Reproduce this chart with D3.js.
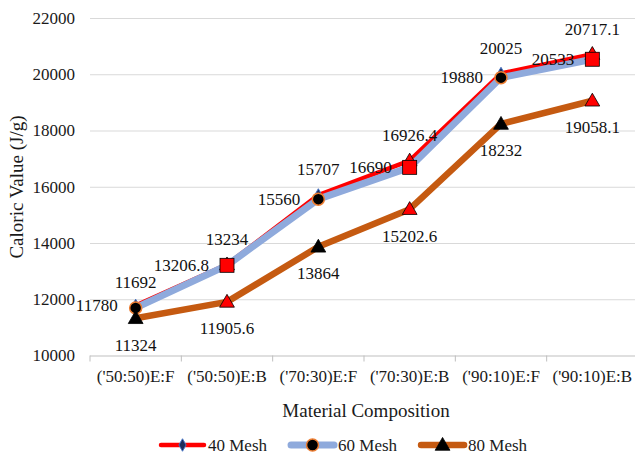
<!DOCTYPE html>
<html>
<head>
<meta charset="utf-8">
<script src="https://cdn.jsdelivr.net/npm/d3@7"></script>
<style>
  body { margin: 0; background: #fff; }
  text { font-family: "Liberation Serif", "Times New Roman", serif; }
</style>
</head>
<body>
<div id="chart"></div>
<script>
const categories = ["('50:50)E:F", "('50:50)E:B", "('70:30)E:F", "('70:30)E:B", "('90:10)E:F", "('90:10)E:B"];
const mesh40 = [11780, 13234, 15707, 16926.4, 20025, 20717.1];
const mesh60 = [11692, 13206.8, 15560, 16690, 19880, 20533];
const mesh80 = [11324, 11905.6, 13864, 15202.6, 18232, 19058.1];
const seriesNames = ["40 Mesh", "60 Mesh", "80 Mesh"];
const yTicks = [10000, 12000, 14000, 16000, 18000, 20000, 22000];

const width = 635, height = 454;
const plotLeft = 90, plotRight = 638, plotTop = 18, plotBottom = 355.5;

const svg = d3.select("#chart").append("svg")
  .attr("width", width)
  .attr("height", height);

const x = d3.scaleBand().domain(categories).range([plotLeft, plotRight]).paddingInner(0).paddingOuter(0);
const cx = d => x(d) + x.bandwidth() / 2;
const y = d3.scaleLinear().domain([10000, 22000]).range([plotBottom, plotTop]);

// gridlines + y labels
const yAxis = svg.append("g")
  .attr("transform", `translate(${plotLeft},0)`)
  .call(d3.axisLeft(y).tickValues(yTicks).tickSize(-(plotRight - plotLeft)).tickPadding(15).tickFormat(d3.format("d")));
yAxis.select(".domain").remove();
yAxis.selectAll(".tick line").attr("stroke", "#d9d9d9").attr("stroke-width", 1);
yAxis.selectAll(".tick text").style("font-size", "17px").attr("fill", "#1a1a1a")
  .style("font-family", "'Liberation Serif', 'Times New Roman', serif");
yAxis.selectAll(".tick").filter(d => d === 10000).select("line").attr("stroke", "#bfbfbf");

// x axis labels
const xAxis = svg.append("g")
  .attr("transform", `translate(0,${plotBottom})`)
  .call(d3.axisBottom(x).tickSize(0).tickPadding(14));
xAxis.select(".domain").remove();
xAxis.selectAll(".tick text").style("font-size", "17px").attr("fill", "#1a1a1a")
  .style("font-family", "'Liberation Serif', 'Times New Roman', serif");

// category boundary ticks
svg.append("g").selectAll("line")
  .data(categories.concat(["end"]))
  .join("line")
  .attr("x1", (d, i) => plotLeft + i * x.step())
  .attr("x2", (d, i) => plotLeft + i * x.step())
  .attr("y1", plotBottom)
  .attr("y2", plotBottom + 6)
  .attr("stroke", "#bfbfbf");

// series
const series = [
  { name: seriesNames[0], values: mesh40, color: "#ff0000", width: 4.5 },
  { name: seriesNames[1], values: mesh60, color: "#8faadc", width: 7 },
  { name: seriesNames[2], values: mesh80, color: "#c55a11", width: 6.5 }
];

const line = d3.line().x((d, i) => cx(categories[i])).y(d => y(d));

series.forEach(s => {
  svg.append("path")
    .datum(s.values)
    .attr("fill", "none")
    .attr("stroke", s.color)
    .attr("stroke-width", s.width)
    .attr("stroke-linejoin", "round")
    .attr("d", line);
});

const tri = d3.symbol().type(d3.symbolTriangle).size(95);
const diamond = d3.symbol().type(d3.symbolDiamond).size(45);

function drawMarker(g, kind, px, py) {
  if (kind === "diamond") {
    g.append("path").attr("d", diamond()).attr("transform", `translate(${px},${py})`)
      .attr("fill", "#1f2d5a").attr("stroke", "#4472c4").attr("stroke-width", 1);
  } else if (kind === "redTri") {
    g.append("path").attr("d", tri()).attr("transform", `translate(${px},${py + 1})`)
      .attr("fill", "#ff0000").attr("stroke", "#000").attr("stroke-width", 0.8);
  } else if (kind === "blackTri") {
    g.append("path").attr("d", tri()).attr("transform", `translate(${px},${py + 1})`)
      .attr("fill", "#000").attr("stroke", "#000").attr("stroke-width", 0.8);
  } else if (kind === "circle") {
    g.append("circle").attr("cx", px).attr("cy", py).attr("r", 6)
      .attr("fill", "#000").attr("stroke", "#ed7d31").attr("stroke-width", 1.5);
  } else if (kind === "square") {
    g.append("rect").attr("x", px - 7).attr("y", py - 7).attr("width", 14).attr("height", 14)
      .attr("fill", "#ff0000").attr("stroke", "#000").attr("stroke-width", 0.8);
  }
}

const markers = svg.append("g");
mesh40.forEach((v, i) => drawMarker(markers, i % 2 === 0 ? "diamond" : "redTri", cx(categories[i]), y(v)));
mesh60.forEach((v, i) => drawMarker(markers, i % 2 === 0 ? "circle" : "square", cx(categories[i]), y(v)));
mesh80.forEach((v, i) => drawMarker(markers, i % 2 === 0 ? "blackTri" : "redTri", cx(categories[i]), y(v)));

// data labels
const labels = svg.append("g").style("font-size", "17px").attr("fill", "#111");
function addLabel(v, i, where) {
  const px = cx(categories[i]), py = y(v);
  const t = labels.append("text").text(v).attr("dominant-baseline", "central");
  if (where === "left") t.attr("x", px - 18).attr("y", py).attr("text-anchor", "end");
  else if (where === "above") t.attr("x", px).attr("y", py - 25).attr("text-anchor", "middle");
  else t.attr("x", px).attr("y", py + 27).attr("text-anchor", "middle");
}
mesh40.forEach((v, i) => addLabel(v, i, i === 0 ? "left" : "above"));
mesh60.forEach((v, i) => addLabel(v, i, i === 0 ? "above" : "left"));
mesh80.forEach((v, i) => addLabel(v, i, "below"));

// axis titles
svg.append("text")
  .attr("x", (plotLeft + plotRight) / 2 + 2)
  .attr("y", 410)
  .attr("text-anchor", "middle")
  .attr("dominant-baseline", "central")
  .style("font-size", "19px")
  .attr("fill", "#1a1a1a")
  .text("Material Composition");

svg.append("text")
  .attr("transform", "rotate(-90)")
  .attr("x", -187)
  .attr("y", 16)
  .attr("text-anchor", "middle")
  .attr("dominant-baseline", "central")
  .style("font-size", "19px")
  .attr("fill", "#1a1a1a")
  .text("Caloric Value (J/g)");

// legend
const legend = svg.append("g");
const legendKinds = ["diamond", "circle", "blackTri"];
let lx = 161;
const ly = 445;
series.forEach((s, i) => {
  legend.append("line")
    .attr("x1", lx).attr("x2", lx + 43).attr("y1", ly).attr("y2", ly)
    .attr("stroke", s.color).attr("stroke-width", s.width).attr("stroke-linecap", "round");
  drawMarker(legend, legendKinds[i], lx + 21.5, ly);
  const t = legend.append("text")
    .attr("x", lx + 47).attr("y", ly)
    .attr("dominant-baseline", "central")
    .style("font-size", "17px")
    .attr("fill", "#1a1a1a")
    .text(s.name);
  lx += 47 + t.node().getComputedTextLength() + 24;
});
</script>
</body>
</html>
